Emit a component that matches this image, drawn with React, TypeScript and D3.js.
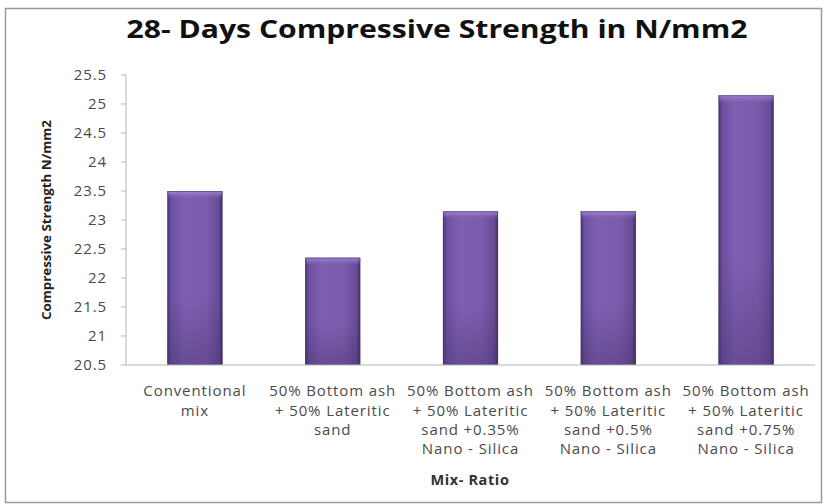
import React from "react";
import * as d3 from "d3";

const categories: string[][] = [
  ["Conventional", "mix"],
  ["50% Bottom ash", "+ 50% Lateritic", "sand"],
  ["50% Bottom ash", "+ 50% Lateritic", "sand +0.35%", "Nano - Silica"],
  ["50% Bottom ash", "+ 50% Lateritic", "sand +0.5%", "Nano - Silica"],
  ["50% Bottom ash", "+ 50% Lateritic", "sand +0.75%", "Nano - Silica"],
];
const values: number[] = [23.5, 22.35, 23.15, 23.15, 25.15];
const yTicks: number[] = [20.5, 21, 21.5, 22, 22.5, 23, 23.5, 24, 24.5, 25, 25.5];
const title = "28- Days Compressive Strength in N/mm2";
const yTitle = "Compressive Strength N/mm2";
const xTitle = "Mix- Ratio";

const W = 826;
const H = 504;
const left = 126;
const right = 815;
const top = 75;
const bottom = 365;
const font = "'Open Sans', 'DejaVu Sans', sans-serif";

export default function App() {
  const x = d3
    .scaleBand<number>()
    .domain(categories.map((_, i) => i))
    .range([left, right])
    .paddingInner(0.6)
    .paddingOuter(0.3);
  const y = d3.scaleLinear().domain([20.5, 25.5]).range([bottom, top]);
  const bw = x.bandwidth();

  return (
    <svg
      width={W}
      height={H}
      style={{ position: "absolute", left: 0, top: 0, display: "block" }}
    >
      <defs>
        <linearGradient id="barH" x1="0" x2="1" y1="0" y2="0">
          <stop offset="0" stopColor="#4a3472" />
          <stop offset="0.07" stopColor="#6c50a0" />
          <stop offset="0.3" stopColor="#7e60b2" />
          <stop offset="0.7" stopColor="#7a5cac" />
          <stop offset="0.93" stopColor="#684c98" />
          <stop offset="1" stopColor="#402c62" />
        </linearGradient>
        <linearGradient id="barTop" x1="0" x2="0" y1="0" y2="1">
          <stop offset="0" stopColor="#a88cd6" />
          <stop offset="1" stopColor="#7d5fb0" stopOpacity="0" />
        </linearGradient>
        <linearGradient id="barBot" x1="0" x2="0" y1="0" y2="1">
          <stop offset="0" stopColor="#3e2a60" stopOpacity="0" />
          <stop offset="1" stopColor="#3e2a60" stopOpacity="0.35" />
        </linearGradient>
      </defs>
      <rect x={0} y={0} width={W} height={H} fill="#ffffff" />
      <rect x={5.5} y={8.5} width={816} height={494} fill="none" stroke="#9a9a9a" strokeWidth={1.5} />

      <text
        x={437}
        y={38}
        textAnchor="middle"
        fontFamily={font}
        fontWeight={700}
        fontSize={25}
        fill="#111"
        textLength={621}
        lengthAdjust="spacingAndGlyphs"
      >
        {title}
      </text>

      {/* y axis */}
      <line x1={left} x2={left} y1={top} y2={bottom} stroke="#b5b5b5" strokeWidth={1} />
      {yTicks.map((t) => (
        <g key={t}>
          <line x1={left - 5} x2={left} y1={y(t)} y2={y(t)} stroke="#b5b5b5" />
          <text
            x={107}
            y={y(t)}
            dy="0.36em"
            textAnchor="end"
            fontFamily={font}
            fontSize={15}
            letterSpacing={0.9}
            fill="#4a4a4a"
          >
            {t}
          </text>
        </g>
      ))}
      <text
        transform={`translate(47,220) rotate(-90)`}
        textAnchor="middle"
        dy="0.35em"
        fontFamily={font}
        fontWeight={700}
        fontSize={12}
        fill="#222"
        textLength={200}
        lengthAdjust="spacingAndGlyphs"
      >
        {yTitle}
      </text>

      {/* bars */}
      {values.map((v, i) => {
        const bx = x(i)!;
        const by = y(v);
        const bh = bottom - by;
        return (
          <g key={i}>
            <rect x={bx} y={by} width={bw} height={bh} fill="url(#barH)" />
            <rect x={bx} y={by} width={bw} height={Math.min(8, bh)} fill="url(#barTop)" />
            <rect x={bx} y={by + bh * 0.6} width={bw} height={bh * 0.4} fill="url(#barBot)" />
            <rect x={bx + 0.5} y={by + 0.5} width={bw - 1} height={bh - 1} fill="none" stroke="#4a3570" strokeOpacity={0.6} />
          </g>
        );
      })}

      {/* x axis */}
      <line x1={left} x2={right} y1={bottom} y2={bottom} stroke="#b5b5b5" strokeWidth={1.2} />
      {categories.map((lines, i) => {
        const cx = x(i)! + bw / 2;
        return (
          <text
            key={i}
            textAnchor="middle"
            fontFamily={font}
            fontSize={15}
            letterSpacing={0.9}
            fill="#4a4a4a"
          >
            {lines.map((l, j) => (
              <tspan key={j} x={cx} y={391 + j * 19.4} dy="0.35em">
                {l}
              </tspan>
            ))}
          </text>
        );
      })}
      <text
        x={470}
        y={480}
        dy="0.35em"
        textAnchor="middle"
        fontFamily={font}
        fontWeight={700}
        fontSize={14.5}
        letterSpacing={0.6}
        fill="#333"
      >
        {xTitle}
      </text>
    </svg>
  );
}
